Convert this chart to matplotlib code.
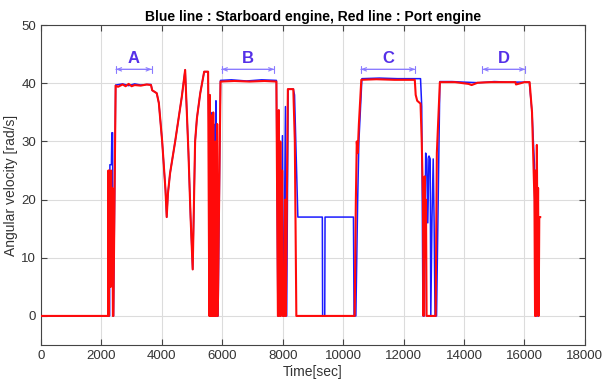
import matplotlib
matplotlib.use("Agg")
import matplotlib.pyplot as plt

plt.rcParams["font.family"] = ["Liberation Sans", "DejaVu Sans"]

# starboard engine (blue)
blue_t = [0, 2240, 2255, 2265, 2280, 2330, 2345, 2370, 2380, 2400, 2470,
          2700, 2900, 3100, 3300, 3500, 3640, 3680, 3830, 3900, 4010, 4120,
          4160, 4200, 4270, 4440, 4660, 4770, 4880, 4950, 5020, 5100, 5160,
          5270, 5400, 5530, 5560, 5580, 5600, 5620, 5640, 5700, 5720, 5740,
          5770, 5790, 5810, 5860, 5940, 6300, 6800, 7300, 7790, 7840, 7870,
          7900, 7920, 7990, 8010, 8030, 8090, 8110, 8130, 8180, 8350, 8390,
          8500, 9310, 9320, 9390, 9400, 10340, 10360, 10420, 10480, 10520,
          10620, 11200, 11800, 12560, 12600, 12640, 12690, 12730, 12770,
          12800, 12840, 12880, 12900, 12940, 12980, 13010, 13040, 13090,
          13200, 13600, 14000, 14500, 15000, 15500, 16160, 16250, 16330,
          16360, 16380, 16420, 16450]
blue_v = [0, 0, 16.5, 0, 26, 26, 31.5, 31.5, 0, 0, 39.7,
          39.9, 39.6, 39.9, 39.7, 39.8, 39.8, 38.8, 38.3, 36.6, 30, 21.6,
          17, 21, 24.5, 30, 37.7, 42.3, 28, 17, 8, 30, 34,
          38.3, 42, 42, 30, 0, 0, 35, 0, 0, 33, 0,
          0, 37, 0, 0, 40.5, 40.6, 40.4, 40.6, 40.5, 0, 0,
          20, 0, 31, 0, 0, 36, 0, 0, 39, 39, 38,
          17, 17, 0, 0, 17, 17, 0, 0, 20, 30,
          40.8, 40.9, 40.8, 40.8, 36, 0, 0, 28, 27,
          16, 27.5, 27, 0, 17, 27, 16, 0, 0,
          40.3, 40.3, 40.2, 40.1, 40.3, 40.2, 40.2, 35, 26,
          0, 24, 0, 0]

# port engine (red)
red_t = [0, 2220, 2230, 2245, 2260, 2275, 2290, 2305, 2320, 2340, 2360,
         2380, 2395, 2470, 2550, 2700, 2800, 2900, 3000, 3100, 3300, 3500,
         3640, 3680, 3830, 3900, 4010, 4120, 4160, 4200, 4270, 4440, 4660,
         4770, 4880, 4950, 5020, 5100, 5160, 5270, 5400, 5530, 5570, 5590,
         5610, 5630, 5650, 5680, 5700, 5720, 5760, 5780, 5800, 5830, 5850,
         5940, 6400, 6900, 7400, 7790, 7840, 7870, 7890, 7920, 7940, 7980,
         8000, 8050, 8080, 8100, 8170, 8350, 8400, 8450, 10380, 10420, 10450,
         10480, 10520, 10600, 11100, 11700, 12370, 12400, 12450, 12560,
         12600, 12640, 12660, 12700, 12720, 12740, 12760, 13060, 13100,
         13200, 13700, 14150, 14250, 14350, 14450, 14900, 15400, 15700,
         15720, 16000, 16170, 16250, 16330, 16350, 16370, 16390, 16410,
         16430, 16450, 16470, 16490, 16520]
red_v = [0, 0, 25, 0, 25, 5, 24, 5, 25, 10, 22,
         0, 0, 39.6, 39.4, 39.8, 39.5, 39.9, 39.5, 39.7, 39.6, 39.8,
         39.7, 38.8, 38.3, 36.6, 30, 21.6, 17, 21, 24.5, 30, 37.7,
         42.3, 28, 17, 8, 30, 34, 38.3, 42, 42, 0, 38,
         0, 34.5, 0, 0, 35, 0, 0, 30, 0, 33, 0,
         40.3, 40.4, 40.3, 40.4, 40.3, 0, 35.4, 0, 30, 0, 25,
         0, 0, 20, 0, 39, 39, 30, 0, 0, 20, 30,
         28, 33, 40.6, 40.7, 40.6, 40.6, 38, 37, 36.5,
         30, 20, 0, 24, 10, 20, 0, 0, 28,
         40.2, 40.2, 39.9, 39.7, 39.9, 40.1, 40.2, 40.2, 40.2,
         39.8, 40.2, 40.2, 35, 20, 0, 25, 0, 29.4,
         10, 22, 0, 17, 17]

# operating ranges marked on top
range_names = ["A", "B", "C", "D"]
range_start = [2480, 5980, 10585, 14610]
range_end = [3665, 7720, 12385, 16025]

fig = plt.figure(figsize=(6.03, 3.87), dpi=100)
ax = fig.add_axes([0.068, 0.1085, 0.902, 0.8265])

ax.plot(blue_t, blue_v, color="#1a1aff", lw=1.1, zorder=3)
ax.plot(red_t, red_v, color="#ff0a0a", lw=1.5, zorder=4)

for name, s, e in zip(range_names, range_start, range_end):
    ax.annotate("", xy=(s, 42.4), xytext=(e, 42.4),
                arrowprops=dict(arrowstyle="|-|,widthA=0.25,widthB=0.25",
                                color="#8a7bff", lw=0.8, shrinkA=0, shrinkB=0))
    ax.annotate("", xy=(s, 42.4), xytext=(e, 42.4),
                arrowprops=dict(arrowstyle="<->,head_length=0.3,head_width=0.12",
                                color="#8a7bff", lw=0.8, shrinkA=0, shrinkB=0))
    ax.text((s + e) / 2, 44.3, name, color="#5530e8", fontsize=12,
            fontweight="bold", ha="center", va="center")

ax.set_xlim(0, 18000)
ax.set_ylim(-5, 50)
ax.set_xticks(range(0, 18001, 2000))
ax.set_yticks(range(0, 51, 10))
ax.grid(True, color="#dcdcdc", lw=0.8)
ax.set_axisbelow(True)
ax.tick_params(direction="in", top=True, right=True, labelsize=9.5,
               labelcolor="#333333", color="#444444", length=4)
for sp in ax.spines.values():
    sp.set_color("#444444")

ax.set_xlabel("Time[sec]", fontsize=10, color="#333333", labelpad=2)
ax.set_ylabel("Angular velocity [rad/s]", fontsize=10, color="#333333", labelpad=2)
ax.set_title("Blue line : Starboard engine, Red line : Port engine",
             fontsize=10, fontweight="bold", pad=3)

fig.savefig("out.png", dpi=100)
